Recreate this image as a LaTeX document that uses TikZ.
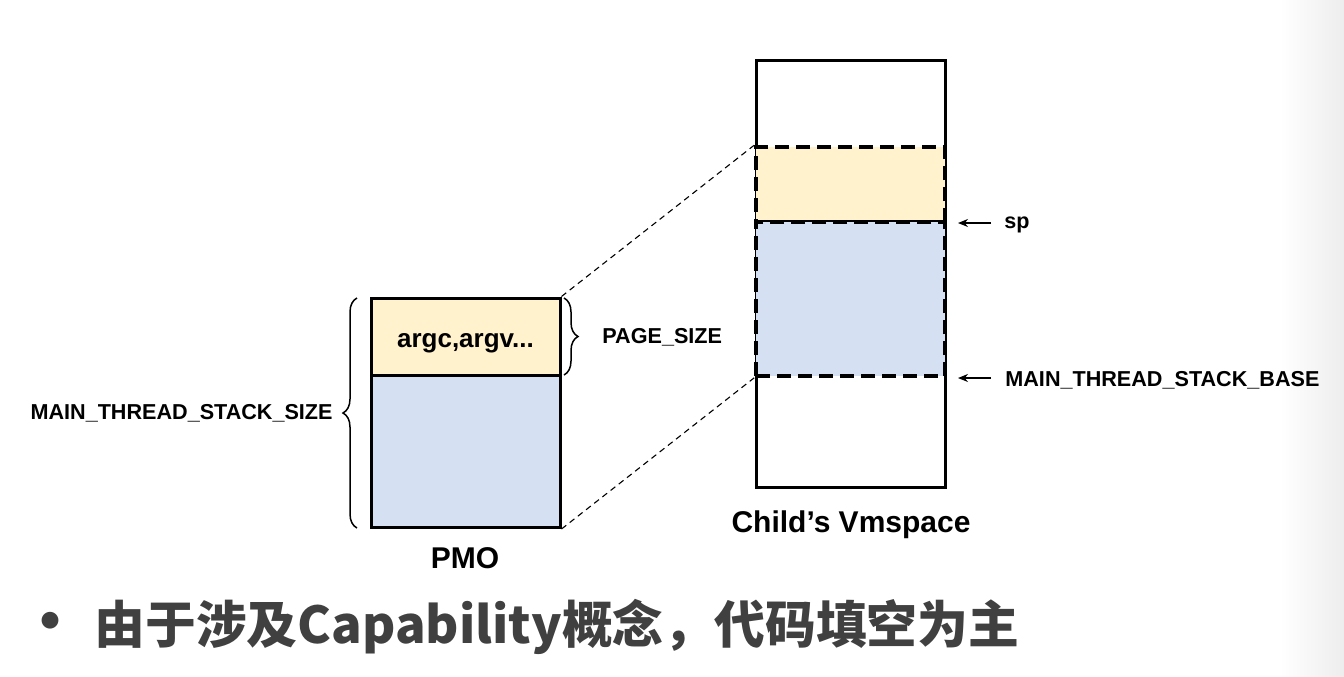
\documentclass[tikz,border=0pt]{standalone}
\usepackage{fontspec}
\setmainfont{Liberation Sans}
\newfontfamily\cjk{Noto Sans CJK SC}
\usetikzlibrary{arrows.meta,decorations.pathreplacing}
\definecolor{yel}{RGB}{255,242,204}
\definecolor{blu}{RGB}{213,225,242}
\definecolor{txt}{RGB}{64,64,64}
\begin{document}
\begin{tikzpicture}[x=0.5pt,y=-0.5pt,
  lbl/.style={font=\bfseries\fontsize{10.8pt}{12pt}\selectfont, inner sep=0pt},
  big/.style={font=\bfseries\fontsize{15pt}{17pt}\selectfont, inner sep=0pt},
  cell/.style={inner sep=0pt, minimum width=94.5pt, line width=1.5pt},
  dcell/.style={inner sep=0pt, minimum width=94.5pt, line width=1.8pt, dash pattern=on 7pt off 3.5pt},
  conn/.style={line width=0.55pt, dash pattern=on 3pt off 2.2pt},
  brc/.style={decorate, decoration={brace, amplitude=7pt}, line width=0.75pt},
  ptr/.style={-{Stealth[length=5pt,width=4pt]}, line width=0.65pt}
]
\useasboundingbox (0,0) rectangle (1344,676);
\shade[left color=white, right color=black!7] (1280,0) rectangle (1344,676);
% PMO
\node[cell, fill=yel, draw, minimum height=38.5pt] (py) at (465.5,336.5) {};
\node[cell, fill=blu, draw, minimum height=76pt] (pb) at (465.5,451.5) {};
\node[lbl, font=\bfseries\fontsize{13pt}{15pt}\selectfont, anchor=base] (args) at (465.5,347) {argc,argv...};
\node[big, anchor=base] (pmo) at (465,568) {PMO};
% braces
\coordinate (lb1) at (357,528);
\coordinate (lb2) at (357,298);
\draw[brc] (lb1) -- (lb2);
\coordinate (rb1) at (564,298);
\coordinate (rb2) at (564,375);
\draw[brc] (rb1) -- (rb2);
\node[lbl, anchor=east] (mtss) at (333,413) {MAIN\_THREAD\_STACK\_SIZE};
\node[lbl, anchor=west] (ps) at (602,337) {PAGE\_SIZE};
% Vmspace
\node[cell, fill=white, draw, minimum height=213.5pt] (vm) at (850.5,273.5) {};
\node[dcell, fill=yel, draw, minimum height=37.5pt] (vy) at (850.5,184.5) {};
\node[dcell, fill=blu, draw, minimum height=77pt] (vb) at (850.5,299) {};
\node[big, anchor=base] (vml) at (851,532) {Child’s Vmspace};
% connectors
\draw[conn] (py.north east) -- (vy.north west);
\draw[conn] (pb.south east) -- (vb.south west);
% pointers
\node[lbl, anchor=base west] (sp) at (1004,228) {sp};
\node[lbl, anchor=base west] (base) at (1005,386) {MAIN\_THREAD\_STACK\_BASE};
\coordinate (spt) at (958,223);
\coordinate (bt) at (958,378);
\coordinate (sps) at (991,223);
\coordinate (bs) at (991,378);
\draw[ptr] (sps) -- (spt);
\draw[ptr] (bs) -- (bt);
% bullet
\node[text=txt, font=\cjk\bfseries\fontsize{30pt}{32pt}\selectfont, inner sep=0pt, anchor=center] (bul) at (50,628) {•};
\node[text=txt, font=\cjk\bfseries\fontsize{25.4pt}{28pt}\selectfont, inner sep=0pt, anchor=west] (bt2) at (94,627) {由于涉及Capability概念，代码填空为主};
\end{tikzpicture}
\end{document}
